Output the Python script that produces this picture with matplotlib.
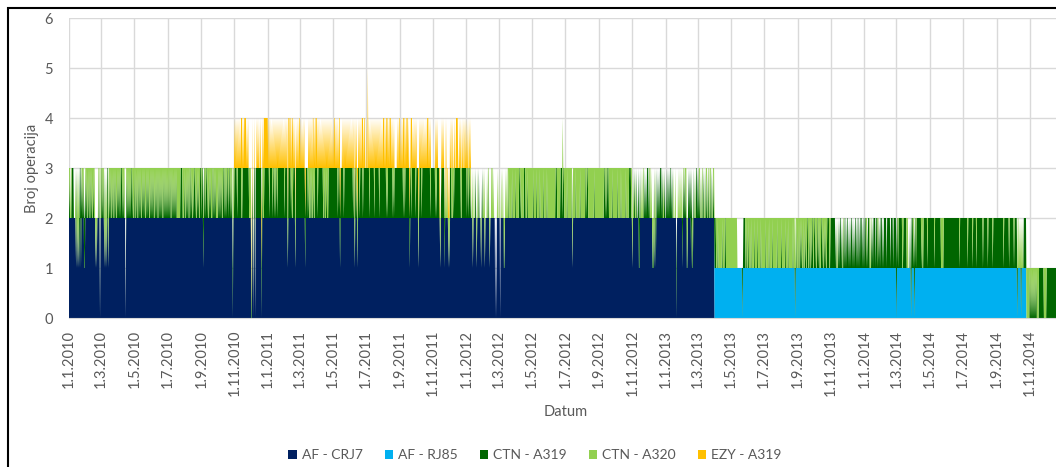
import numpy as np
import matplotlib
matplotlib.use('Agg')
import matplotlib.pyplot as plt
import matplotlib.dates as mdates
from matplotlib.patches import Rectangle

plt.rcParams['font.family'] = ['Lato', 'DejaVu Sans']
TXT = '#595959'

series_names = ['AF - CRJ7', 'AF - RJ85', 'CTN - A319', 'CTN - A320', 'EZY - A319']
series_colors = ['#002060', '#00B0F0', '#006600', '#92D050', '#FFC000']

# base fleet: (first day, first day without it, flights per day)
crj7_period = ('2010-01-01', '2013-04-01', 2)
rj85_period = ('2013-04-01', '2014-10-26', 1)

# CTN rotation, one char per day, one string per two-month block from Jan 2010
# D = A319, L = A320, . = no CTN, d / l = one base flight missing,
# a = only the A319 flew, 0 = no flights at all, M = two A320
ctn_first = '2010-01'
ctn_blocks = [
    "LDL.LDDDD." "..LlDlLlLd" "DDdDLDLDdd" "DLDLLDLDLL" "DLDLLDLL.l" ".l..LDL0L",
    "LDDLDLlDlL" "lDDlLDLDLL" "DLDLLDLDLL" "DLDLDLDDDL" "DLDL.0LDLD" "LDLDLDDLDL" "L",
    "DLLDLDLLDL" "DLDLLDLDLD" "LLDLDLDLLD" "LDLDLDLLDL" "DLDLLDLDLD" "LDLLDLDLDL" "D",
    "LDLDLDLLDL" "DLDLDLDLLL" "LLLLDDDDLL" "LDLLDLDLDL" "LDDLDLLDLD" "DLDLLDLDLL" "DD",
    "DLDDdLDDLD" "DLDLLDLDLL" "LDDLDLDLLL" "LDLDLDLDLL" "DDLDDLDLDD" "LDDLDLDLaL" "L",
    "DDDDDLDDDD" "DDDLLDDDDD" "DDDDDDDLLL" "La0D.0DD0D" "DDDDDDDDDD" "aDLLLDDDDD" "D",
    "DDDLDDDDDL" "DDLDDLDDLD" "DDDDDDDDDD" "DLDDDDDlDD" "DDDLDLLDDD" "DlDDDDDDD",
    "DDDDDDDDDD" "dDDDDLDLLD" "LLDLLDLLDD" "DDDLDDDDDD" "DDDLLDLLLD" "LLLDDDDDDD" "D",
    "DDDDDDDDDL" "DDDdDDDDDD" "LDDDDDDDDD" "DDDDDDDLDD" "lDDLDlDDDL" "DDDDDLDDDD" "D",
    "DDDDDDLDDD" "DDDDDLDDDD" "DDDDLDDDDD" "DDDDDDDLDL" "DDDDDDDDDL" "DLDDDDDDDD" "DD",
    "DDDDDDLDDL" "DDDDDDDDdD" "DLDDDDDDDL" "DDDDlLDDDD" "LDDDDDDDDD" "DDDDDDLDDD" "D",
    "DDDDLDLDDD" "DD.l.DDDDD" "DdL.L.L.l." "lDDDLLLDLD" "DDDDDDDDDD" "DLLDDDDDDDD",
    "DLDDLDDLD." ".Ll.L..D.l" ".L.D...l.D" ".L.Ll...L." "DL.l..LLL." "L..0.0.L..",
    "L.0.L..L.d" "l.L.L.LLDL" "LLLLDLLLLL" "DLLLLLLDDL" "DLLLLLDDDL" "LLDLLLLLLLL",
    "LLDLLLLLDL" "LLLLDLLLLL" "LDLLLLLDLL" "LLLLLLLLLL" "LLLDDDLLLL" "LLDDDDMDDL" "L",
    "LLLDLLLLLL" "LLDlLLLLLD" "LLLLLLLDLL" "LLLLLLLDDL" "DDLLLLLLLL" "LLLDLLLLLL" "LL",
    "LLLLLLLLLD" "DLDDLDDDLL" "LLLLDLLLLL" "LLLLDLLLLL" "DLLLLLLLLD" "LLLLLDDDDLL",
    "l.L.D.L.D." ".DddD.L.L." "LD.D.D.DDD" ".DLL.L.ldl" "DlLd.D.D.D" ".DDD.D.L.D.",
    ".D.D.D.D.D" "D.D..L..L." "a..L.L.L.L" ".dLD.DLDLd" "l.D.D.DdDl" "d.D.L.DD.",
    "D.DLD.L.DL" ".D.L.DLD.L" "D.LDL.D.LDL" "DDDLLLDLLL" "LLLLDLLLLD" "DLLLLLLLLL",
    "LLLLLLLLLL" "LL........" ".a.DDDDLLD" "LLDLLLLDLL" "LLLDLLLLLD" "LLLLLDLLLLL",
    "LLLDLLLLLD" "LLLLLDLLLL" "LLLLDLLLLL" "LLDLLLLLLD" "LLLLDLLLLL" "LLLDLLLaLL" "DL",
    "LLDLLDLDLL" "LDLLDLLDDL" "LDLLDLDDLL" "DDLDLLDDLD" "LLLDDLDLLD" "LDLLDDDDLLD",
    "DDDDDDDD.D" ".L.D.D.DD." "D.LD.DD.D." "DD.D.D.DD." "D.D.DD.D.D" "D.D.DDD.D.D",
    "D.DDLD.DDD" "L.LD.D.DDD" "D.DDDLD.D." "DDD.D.DDDD" "D.DDDDDD.D" "DDD.DDDDD",
    "aDDLDDDDDD" "DLLDDDDDDL" "LL...D.aDD" "DLDaDDLDDD" "DDDDDDLDLL" "DDDDDDDLDDD",
    "DDDDDDDDDL" "DDDDDDDDDD" "DLLLLLDDDD" "DDDDDDDDDD" "DDDDDDDDDD" "DDDDDLDDDDD",
    "DDDDDDDDDL" "DDDDDDDDLD" "DDDDDLDDDD" "DDDDDDDLDD" "DDDDDDLDDD" "DDDDDLDDDD" "DD",
    "DDDDDDDDDD" "DDDLDDDDDD" "DDDLDDDDDD" "DDLDDDDDaL" "L.L.LaL.L." "DDDDDLLLLLL",
    "DLDLDLDLDL" "DLDLLLLDDD" "DDDDDDLLLL" "LDDDDDDDDD" "DDDDDDDDDD" "DDDDDDDDDDD",
]

# easyJet A319 flights per day, two-month blocks from Nov 2010
ezy_first = '2010-11'
ezy_blocks = [
    "1010101010" "1011101011" "1101010000" "0101001010" "0101010010" "1010111111" "1",
    "1010101010" "1010101010" "1010101010" "1010101011" "1011011010" "101010101",
    "1010101010" "1000001010" "1010110101" "1101010101" "0101010101" "01010101010",
    "1011010101" "0111000101" "0101010101" "0101010101" "0101010101" "0101110110" "0",
    "1002010101" "0101010101" "0101010101" "0111010111" "0101110101" "0100000101" "01",
    "1010101110" "1011101010" "1110101010" "1000101010" "1010101010" "1110101000" "0",
    "0000101010" "0010010101" "0010100101" "0101001001" "0011110010" "1001010010" "1",
    "0101001010" "0000000000" "0000000000" "0000000000" "0000000000" "0000000000",
]

ctn_codes = {'D': (0, 1, 0), 'L': (0, 0, 1), '.': (0, 0, 0), 'M': (0, 0, 2),
             'd': (1, 1, 0), 'l': (1, 0, 1), 'a': (9, 1, 0), '0': (9, 0, 0)}


def expand(blocks, first):
    """one char per day, each block string spread over its two months"""
    m0 = np.datetime64(first, 'M')
    out = []
    for i, s in enumerate(blocks):
        a = (m0 + 2 * i).astype('datetime64[D]')
        b = (m0 + 2 * i + 2).astype('datetime64[D]')
        n = int((b - a).astype(int))
        idx = np.arange(n) * len(s) // n
        out += [s[j] for j in idx]
    return out


days = np.arange(np.datetime64('2010-01-01'), np.datetime64('2015-01-01'))
n = len(days)


def base(period):
    lo, hi, v = period
    return np.where((days >= np.datetime64(lo)) & (days < np.datetime64(hi)), v, 0)


crj7 = base(crj7_period).astype(float)
rj85 = base(rj85_period).astype(float)
a319 = np.zeros(n)
a320 = np.zeros(n)
ezy = np.zeros(n)

e_codes = expand(ezy_blocks, ezy_first)
e0 = int((np.datetime64(ezy_first, 'M').astype('datetime64[D]') - days[0]).astype(int))
ezy[e0:e0 + len(e_codes)] = [int(c) for c in e_codes]

for i, c in enumerate(expand(ctn_blocks, ctn_first)[:n]):
    drop, x319, x320 = ctn_codes[c]
    crj7[i] = max(crj7[i] - drop, 0)
    rj85[i] = max(rj85[i] - drop, 0)
    a319[i] = x319
    a320[i] = x320
    if c == '0':
        ezy[i] = 0

W, H = 1056, 467
fig = plt.figure(figsize=(W / 100, H / 100), dpi=100)
ax = fig.add_axes([69 / W, (H - 318) / H, (1063 - 69) / W, 300 / H])

x = mdates.date2num(days)
ax.stackplot(x, crj7, rj85, a319, a320, ezy, colors=series_colors,
             labels=series_names, linewidth=0, antialiased=True)

ax.set_ylim(0, 6)
ax.set_yticks(range(7))
ax.set_xlim(mdates.date2num(np.datetime64('2010-01-01')),
            mdates.date2num(np.datetime64('2015-01-01')))
ticks = np.arange(np.datetime64('2010-01'), np.datetime64('2014-12'), 2).astype('datetime64[D]')
ax.set_xticks(mdates.date2num(ticks))
ax.set_xticklabels([f'{d.day}.{d.month}.{d.year}' for d in ticks.astype(object)])

ax.grid(True, color='#D9D9D9', lw=1)
ax.set_axisbelow(True)
for s in ['top', 'right', 'left']:
    ax.spines[s].set_visible(False)
ax.spines['bottom'].set_color('#D9D9D9')
ax.tick_params(axis='x', length=0, pad=8.5, labelrotation=90, labelsize=10.5, labelcolor=TXT)
ax.tick_params(axis='y', length=0, pad=11.5, labelsize=10.5, labelcolor=TXT)

fig.text(32 / W, 1 - 168 / H, 'Broj operacija', rotation=90, ha='center', va='center',
         fontsize=10.5, color=TXT)
fig.text(566 / W, 1 - 412 / H, 'Datum', ha='center', va='center', fontsize=10.5, color=TXT)

leg = fig.legend(loc='center', bbox_to_anchor=(535 / W, 1 - 455 / H), ncol=5, frameon=False,
                 fontsize=10, handlelength=0.6, handleheight=0.6, handletextpad=0.35,
                 columnspacing=1.6)
for t in leg.get_texts():
    t.set_color(TXT)

# outer frame
fig.add_artist(Rectangle((8 / W, -0.05), 1.1, 1.05 - 8 / H, transform=fig.transFigure,
                         fill=False, lw=1.5, edgecolor='black'))

fig.savefig('out.png', dpi=100)
